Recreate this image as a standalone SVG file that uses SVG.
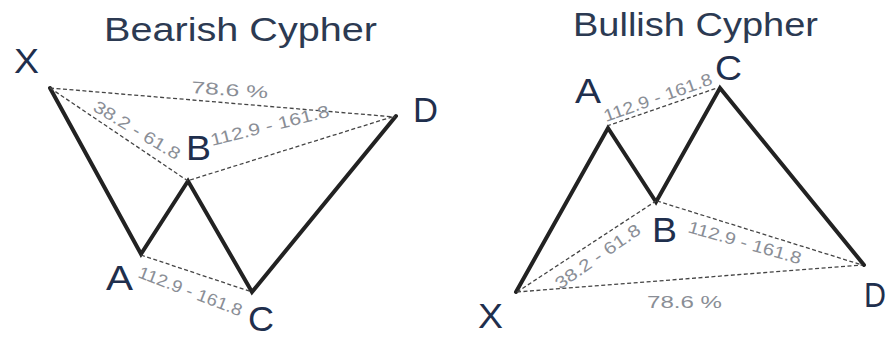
<svg xmlns="http://www.w3.org/2000/svg" width="888" height="337" viewBox="0 0 888 337">
<style>
.title{font-family:"Liberation Sans",Arial,sans-serif;font-size:33px;fill:#2c3a52}
.pt{font-family:"Liberation Sans",Arial,sans-serif;font-size:35px;fill:#1f2f4d}
.lab{font-family:"Liberation Sans",Arial,sans-serif;font-size:17px;fill:#8a8e96}
.leg{fill:none;stroke:#222;stroke-width:4;stroke-linejoin:miter;stroke-linecap:round}
.dash{stroke:#444;stroke-width:1.3;stroke-dasharray:4 2.5;fill:none}
</style>
<rect width="888" height="337" fill="#fff"/>
<g id="bearish">
<text class="title" x="104" y="41" textLength="273" lengthAdjust="spacingAndGlyphs">Bearish Cypher</text>
<g id="connectors-bearish">
<polyline class="leg" points="50,88 141,254 188,181 252,292 396,116"/>
<line class="dash" x1="50" y1="88" x2="395" y2="117"/>
<line class="dash" x1="50" y1="88" x2="188" y2="181"/>
<line class="dash" x1="190" y1="180" x2="395" y2="116"/>
<line class="dash" x1="141" y1="255" x2="252" y2="292"/>
</g>
<g id="bear-X"><text class="pt" x="14" y="73" textLength="25" lengthAdjust="spacingAndGlyphs">X</text></g>
<g id="bear-A"><text class="pt" x="106" y="290" textLength="27" lengthAdjust="spacingAndGlyphs">A</text></g>
<g id="bear-B"><text class="pt" x="186" y="160" textLength="25" lengthAdjust="spacingAndGlyphs">B</text></g>
<g id="bear-C"><text class="pt" x="248" y="331" textLength="26" lengthAdjust="spacingAndGlyphs">C</text></g>
<g id="bear-D"><text class="pt" x="413" y="122" textLength="25" lengthAdjust="spacingAndGlyphs">D</text></g>
<text class="lab" x="191" y="93" textLength="77" lengthAdjust="spacingAndGlyphs" transform="rotate(4 191 93)">78.6 %</text>
<text class="lab" x="92" y="110" textLength="98" lengthAdjust="spacingAndGlyphs" transform="rotate(31 92 110)">38.2 - 61.8</text>
<text class="lab" x="212" y="146" textLength="122" lengthAdjust="spacingAndGlyphs" transform="rotate(-14 212 146)">112.9 - 161.8</text>
<text class="lab" x="137" y="277" textLength="110" lengthAdjust="spacingAndGlyphs" transform="rotate(21 137 277)">112.9 - 161.8</text>
</g>
<g id="bullish">
<text class="title" x="573" y="36" textLength="245" lengthAdjust="spacingAndGlyphs">Bullish Cypher</text>
<g id="connectors-bullish">
<polyline class="leg" points="516,292 608,128 656,202 720,88 864,265"/>
<line class="dash" x1="607" y1="126" x2="717" y2="88"/>
<line class="dash" x1="517" y1="292" x2="656" y2="201"/>
<line class="dash" x1="657" y1="201" x2="862" y2="265"/>
<line class="dash" x1="517" y1="292" x2="862" y2="265"/>
</g>
<g id="bull-X"><text class="pt" x="478" y="328" textLength="25" lengthAdjust="spacingAndGlyphs">X</text></g>
<g id="bull-A"><text class="pt" x="575" y="103" textLength="26" lengthAdjust="spacingAndGlyphs">A</text></g>
<g id="bull-B"><text class="pt" x="652" y="242" textLength="25" lengthAdjust="spacingAndGlyphs">B</text></g>
<g id="bull-C"><text class="pt" x="715" y="80" textLength="27" lengthAdjust="spacingAndGlyphs">C</text></g>
<g id="bull-D"><text class="pt" x="864" y="307" textLength="22" lengthAdjust="spacingAndGlyphs">D</text></g>
<text class="lab" x="606" y="122" textLength="114" lengthAdjust="spacingAndGlyphs" transform="rotate(-19.5 606 122)">112.9 - 161.8</text>
<text class="lab" x="560" y="290" textLength="100" lengthAdjust="spacingAndGlyphs" transform="rotate(-35 560 290)">38.2 - 61.8</text>
<text class="lab" x="687" y="232" textLength="117" lengthAdjust="spacingAndGlyphs" transform="rotate(16 687 232)">112.9 - 161.8</text>
<text class="lab" x="647" y="308" textLength="75" lengthAdjust="spacingAndGlyphs">78.6 %</text>
</g>
</svg>
